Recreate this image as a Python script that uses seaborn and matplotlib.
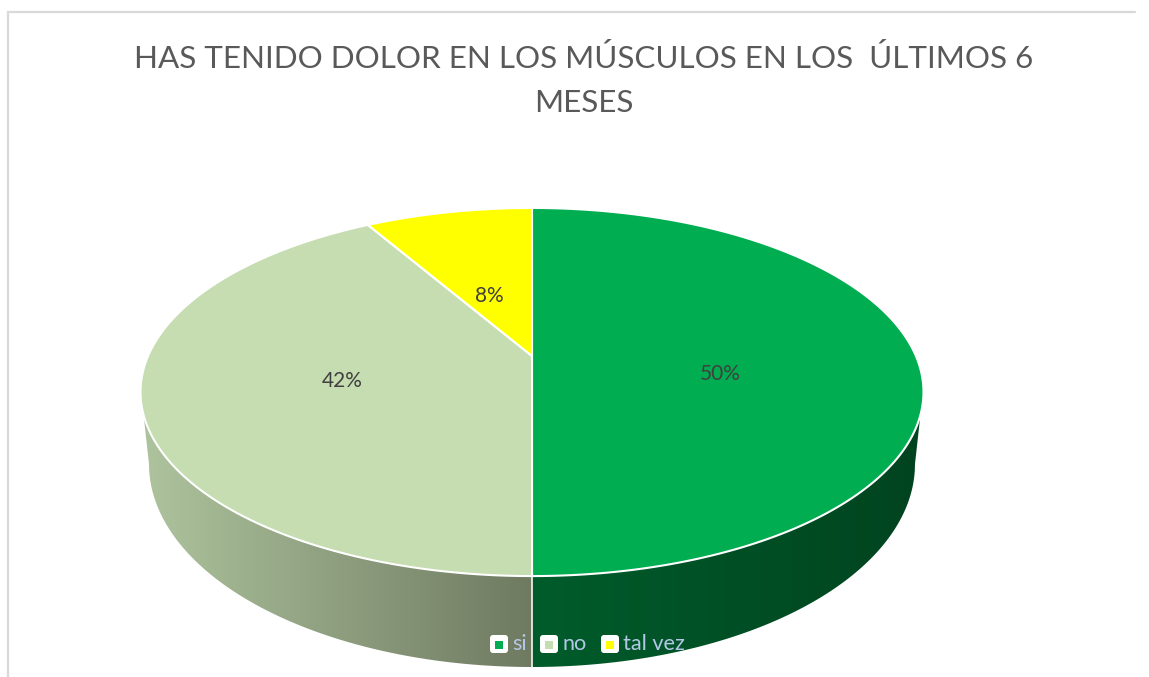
import numpy as np
import matplotlib
matplotlib.use("Agg")
import matplotlib.pyplot as plt
import seaborn as sns
from matplotlib.patches import Polygon, FancyBboxPatch, Rectangle

TITLE = "HAS TENIDO DOLOR EN LOS MÚSCULOS EN LOS  ÚLTIMOS 6\nMESES"
categories = ["si", "no", "tal vez"]
counts = [6, 5, 1]
top_colors = ["#00AD50", "#C5DDB0", "#FFFF00"]
# side shading, colour at the left and right end of each visible side
side_colors = {"si": ["#005C2B", "#01441F"], "no": ["#ADC39D", "#6F7A61"]}

sns.set_theme(style="white")
plt.rcParams['font.family'] = ['Lato', 'DejaVu Sans']

W, H = 1149, 677
CX, CY = 532, 356   # where the slices meet
A, B, K = 177.0, 383.9, 0.1957   # perspective of the top face
BOT_CY, BOT_RX, BOT_RY = 464, 383, 203   # lower rim of the side
SIDE_MARGIN = 0.318   # the side starts this far below the widest point


def top_point(theta):
    # theta clockwise from 12 o'clock on the flat disc
    u, v = np.sin(theta), np.cos(theta)
    d = 1 + K * v
    return CX + B * u / d, CY - A * v / d


def rim_arc(start, end, n=200):
    th = np.linspace(start, end, n)
    x, y = top_point(th)
    return np.column_stack([x, y])


def lower_rim(x):
    r = np.clip((x - CX) / BOT_RX, -1, 1)
    return BOT_CY + BOT_RY * np.sqrt(1 - r ** 2)


def side_poly(start, end):
    top = rim_arc(start, end)
    x_low = np.clip(top[:, 0], CX - BOT_RX, CX + BOT_RX)
    low = np.column_stack([x_low, lower_rim(x_low)])
    return np.vstack([top, low[::-1]])


fig = plt.figure(figsize=(W / 100, H / 100), dpi=100)
ax = fig.add_axes([0, 0, 1, 1])
ax.set_xlim(0, W)
ax.set_ylim(H, 0)
ax.axis("off")

# chart frame
ax.plot([8, 8, 1135], [H, 12, 12], color="#D9D9D9", lw=1.6, solid_joinstyle="miter")

ax.text(584, 80.5, TITLE, ha="center", va="center", fontsize=22.6, color="#595959",
        linespacing=1.66)

fractions = np.array(counts) / sum(counts)
edges = np.concatenate([[0], np.cumsum(fractions)]) * 2 * np.pi

# side wall, only the part facing the viewer
for name, start, end in zip(categories, edges[:-1], edges[1:]):
    lo, hi = max(start, np.pi / 2 + SIDE_MARGIN), min(end, 3 * np.pi / 2 - SIDE_MARGIN)
    if hi <= lo:
        continue
    poly = side_poly(lo, hi)
    patch = Polygon(poly, closed=True, fc="none", ec="none")
    ax.add_patch(patch)
    cmap = sns.blend_palette(side_colors[name], as_cmap=True)
    x0, x1 = poly[:, 0].min(), poly[:, 0].max()
    img = ax.imshow(np.linspace(0, 1, 256)[None, :], cmap=cmap, aspect="auto",
                    extent=[x0, x1, poly[:, 1].max(), poly[:, 1].min()], zorder=2)
    img.set_clip_path(patch)
ax.set_xlim(0, W)
ax.set_ylim(H, 0)

# white line where the slices meet on the side
ax.plot([CX, CX], [top_point(np.pi)[1], lower_rim(np.array(CX))], color="#E8EDE4", lw=1.3, zorder=3)

# top face
for color, start, end in zip(top_colors, edges[:-1], edges[1:]):
    pts = np.vstack([[CX, CY], rim_arc(start, end)])
    ax.add_patch(Polygon(pts, closed=True, fc=color, ec="white", lw=1.5, zorder=4, joinstyle="round"))

# percent labels
label_xy = [(720, 374), (342, 381), (489, 296)]
for frac, (lx, ly) in zip(fractions, label_xy):
    ax.text(lx, ly, f"{frac * 100:.0f}%", ha="center", va="center", fontsize=15,
            color="#404040", zorder=6)

# legend
legend_x = [(490, 512), (540, 563), (601, 623)]
for name, color, (bx, tx) in zip(categories, top_colors, legend_x):
    ax.add_patch(FancyBboxPatch((bx + 2, 637), 14, 14, boxstyle="round,pad=2,rounding_size=3",
                                fc="white", ec="none", zorder=6))
    ax.add_patch(Rectangle((bx + 5, 640.5), 8, 8, fc=color, ec="none", zorder=7))
    ax.text(tx, 644, name, ha="left", va="center", fontsize=15.6, color="#B4C7E7", zorder=7)

fig.savefig("out.png", dpi=100)
